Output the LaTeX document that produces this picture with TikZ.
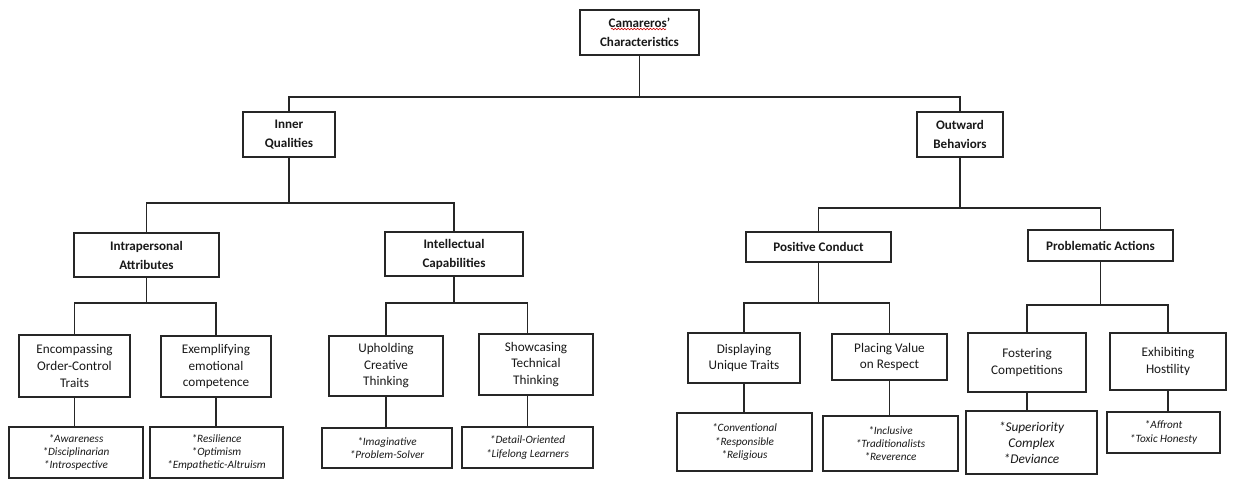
\documentclass[tikz,border=0pt]{standalone}
\usepackage{fontspec}
\setmainfont{Carlito}
\usetikzlibrary{decorations.pathmorphing}
\newcommand\mkbox[7]{%
  \pgfmathsetmacro\bxcx{(#2+#4)/2}%
  \pgfmathsetmacro\bxcy{(#3+#5)/2}%
  \pgfmathsetmacro\bxw{(#4-#2)*0.75}%
  \pgfmathsetmacro\bxh{(#5-#3)*0.75}%
  \node[#6, minimum width=\bxw pt, minimum height=\bxh pt] (#1) at (\bxcx,\bxcy) {#7};}
\begin{document}
\begin{tikzpicture}[x=0.75pt,y=-0.75pt,
  box/.style={draw=black!85, line width=0.8pt, align=center, inner sep=1pt, text=black!90,
    font=\fontsize{9.9}{12.4}\selectfont},
  hb/.style={box, font=\bfseries\fontsize{9.8}{14.2}\selectfont},
  itb/.style={box, font=\itshape\fontsize{8.4}{10}\selectfont},
  itbig/.style={box, font=\itshape\fontsize{10}{12}\selectfont},
  conn/.style={draw=black!85, line width=0.8pt}]
\useasboundingbox (0,0) rectangle (1239,480);
\fill[white] (0,0) rectangle (1239,480);

% level 0 and 1
\mkbox{root}{580}{10}{699}{55}{hb}{Camareros’\\Characteristics}
\mkbox{inner}{243}{112}{335}{157}{hb}{Inner\\Qualities}
\mkbox{outw}{917}{112}{1003}{157}{hb}{Outward\\Behaviors}
% level 2
\mkbox{intra}{74}{233}{219}{277}{hb}{Intrapersonal\\Attributes}
\mkbox{intel}{385}{232}{523}{276}{hb}{Intellectual\\Capabilities}
\mkbox{pos}{746}{232}{891}{262}{hb}{Positive Conduct}
\mkbox{prob}{1028}{230}{1173}{261}{hb}{Problematic Actions}
% level 3
\mkbox{enc}{19}{335}{130}{397}{box}{Encompassing\\Order-Control\\Traits}
\mkbox{exe}{161}{336}{271}{397}{box}{Exemplifying\\emotional\\competence}
\mkbox{uph}{329}{336}{443}{396}{box}{Upholding\\Creative\\Thinking}
\mkbox{sho}{479}{334}{593}{395}{box}{Showcasing\\Technical\\Thinking}
\mkbox{dis}{688}{333}{800}{383}{box}{Displaying\\Unique Traits}
\mkbox{pla}{832}{334}{947}{380}{box}{Placing Value\\on Respect}
\mkbox{fos}{968}{333}{1086}{392}{box}{Fostering\\Competitions}
\mkbox{exh}{1110}{333}{1226}{390}{box}{Exhibiting\\Hostility}
% level 4
\mkbox{b1}{9}{427}{143}{478}{itb}{*Awareness\\*Disciplinarian\\*Introspective}
\mkbox{b2}{150}{427}{283}{478}{itb}{*Resilience\\*Optimism\\*Empathetic-Altruism}
\mkbox{b3}{322}{428}{452}{468}{itb}{*Imaginative\\*Problem-Solver}
\mkbox{b4}{462}{427}{593}{468}{itb}{*Detail-Oriented\\*Lifelong Learners}
\mkbox{b5}{677}{413}{812}{471}{itb}{*Conventional\\*Responsible\\*Religious}
\mkbox{b6}{823}{416}{958}{471}{itb}{*Inclusive\\*Traditionalists\\*Reverence}
\mkbox{b7}{966}{411}{1097}{474}{itbig}{*Superiority\\Complex\\*Deviance}
\mkbox{b8}{1107}{412}{1220}{453}{itb}{*Affront\\*Toxic Honesty}

% spell-check underline
\draw[red!80!black, line width=0.45pt, decorate,
  decoration={snake, amplitude=0.55pt, segment length=2.4pt}] (611,29) -- (666,29);

% bar heights
\coordinate (y0) at (0,97);
\coordinate (y1) at (0,203);
\coordinate (y2) at (0,208);
\coordinate (y3) at (0,303);
\coordinate (y4) at (0,305);

% connectors
\draw[conn] (root.south) -- (root.south |- y0) -| (inner.north);
\draw[conn] (root.south |- y0) -| (outw.north);

\draw[conn] (inner.south) -- (inner.south |- y1) -| (intra.north);
\draw[conn] (inner.south |- y1) -| (intel.north);
\draw[conn] (outw.south) -- (outw.south |- y2) -| (pos.north);
\draw[conn] (outw.south |- y2) -| (prob.north);

\draw[conn] (intra.south) -- (intra.south |- y3) -| (enc.north);
\draw[conn] (intra.south |- y3) -| (exe.north);
\draw[conn] (intel.south) -- (intel.south |- y3) -| (uph.north);
\draw[conn] (intel.south |- y3) -| (b4.north |- sho.north);
\draw[conn] (pos.south) -- (pos.south |- y3) -| (dis.north);
\draw[conn] (pos.south |- y3) -| (pla.north);
\draw[conn] (prob.south) -- (prob.south |- y4) -| (fos.north);
\draw[conn] (prob.south |- y4) -| (exh.north);

\draw[conn] (enc.south) -- (enc.south |- b1.north);
\draw[conn] (exe.south) -- (exe.south |- b2.north);
\draw[conn] (uph.south) -- (uph.south |- b3.north);
\draw[conn] (b4.north |- sho.south) -- (b4.north);
\draw[conn] (dis.south) -- (dis.south |- b5.north);
\draw[conn] (pla.south) -- (pla.south |- b6.north);
\draw[conn] (fos.south) -- (fos.south |- b7.north);
\draw[conn] (exh.south) -- (exh.south |- b8.north);
\end{tikzpicture}
\end{document}
